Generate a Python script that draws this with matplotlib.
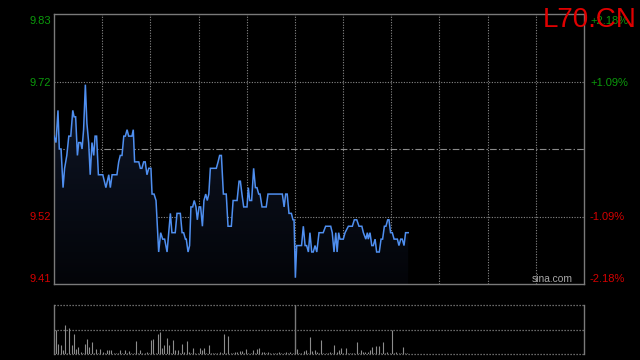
import matplotlib
matplotlib.use('Agg')
import matplotlib.pyplot as plt
import numpy as np
from matplotlib.patches import Polygon
from matplotlib.transforms import blended_transform_factory, offset_copy

# ---------------- data ----------------
title = "L70.CN"
prev_close = 9.62
price_labels = ["9.83", "9.72", "9.52", "9.41"]
pct_labels = ["+2.18%", "+1.09%", "-1.09%", "-2.18%"]
pct_levels = [2.18, 1.09, -1.09, -2.18]

times = [0, 0.9, 1.8, 2.4, 3.2, 4.1, 4.8, 5.8, 6.7, 7.6, 8.5, 9.1, 9.8, 10.6, 11.2, 12.1, 12.7, 13.4, 14.2, 14.9,
         15.7, 16.4, 17.2, 18.0, 18.6, 19.3, 20.1, 22.1, 23.5, 24.8, 25.5, 26.3, 28.5, 29.3, 30.0, 30.8, 31.6, 32.3, 33.1, 33.8,
         35.3, 35.9, 36.5, 38.4, 39.1, 39.8, 40.6, 41.3, 42.1, 42.9, 43.9, 44.4, 45.3, 46.2, 47.4, 48.3, 49.2, 50.1, 51.2, 52.7,
         53.4, 54.9, 55.7, 57.2, 58.0, 58.7, 59.5, 59.9, 60.7, 61.4, 62.0, 62.8, 63.5, 64.3, 64.9, 65.7, 66.4, 67.2, 67.9, 68.7,
         69.4, 70.1, 70.8, 73.5, 74.3, 75.0, 75.8, 76.7, 78.0, 78.8, 80.3, 81.1, 82.9, 83.8, 84.4, 85.1, 85.9, 87.4, 88.0, 88.6,
         89.5, 90.4, 91.2, 91.9, 92.7, 93.3, 94.2, 96.1, 96.9, 103.4, 104.2, 104.9, 105.6, 106.4, 107.5, 108.2, 108.7, 109.3, 109.9, 112.1,
         112.9, 113.7, 114.4, 115.2, 115.9, 116.7, 117.4, 118.2, 119.0, 120.0, 121.9, 123.0, 125.3, 126.0, 126.8, 127.6, 128.2, 128.9, 129.5, 131.0,
         131.8, 133.3, 135.1, 136.0, 137.1, 138.1, 139.4, 140.1, 141.2, 141.9, 142.3, 143.1, 143.9, 144.6, 145.4, 146.1, 147.3, 148.1, 148.8, 149.6,
         150.3, 151.1, 151.7, 152.4, 153.2, 154.0, 155.5, 156.2, 157.0, 157.7, 158.5, 159.2, 160.4]

prices = [9.64, 9.63, 9.68, 9.62, 9.62, 9.56, 9.59, 9.61, 9.64, 9.64, 9.68, 9.67, 9.67, 9.61, 9.63, 9.63, 9.62, 9.65, 9.72, 9.66,
          9.63, 9.58, 9.63, 9.61, 9.64, 9.64, 9.58, 9.58, 9.56, 9.58, 9.56, 9.58, 9.58, 9.60, 9.61, 9.61, 9.64, 9.64, 9.65, 9.64,
          9.64, 9.65, 9.60, 9.60, 9.59, 9.59, 9.60, 9.60, 9.58, 9.59, 9.59, 9.55, 9.55, 9.54, 9.46, 9.49, 9.48, 9.48, 9.46, 9.52,
          9.49, 9.49, 9.52, 9.52, 9.49, 9.49, 9.48, 9.48, 9.46, 9.47, 9.53, 9.53, 9.54, 9.53, 9.51, 9.53, 9.53, 9.50, 9.54, 9.55,
          9.54, 9.55, 9.59, 9.59, 9.60, 9.61, 9.61, 9.55, 9.55, 9.50, 9.50, 9.54, 9.54, 9.57, 9.57, 9.55, 9.53, 9.53, 9.56, 9.54,
          9.54, 9.59, 9.56, 9.56, 9.55, 9.55, 9.53, 9.53, 9.55, 9.55, 9.53, 9.55, 9.55, 9.52, 9.52, 9.51, 9.51, 9.42, 9.47, 9.47,
          9.50, 9.47, 9.47, 9.46, 9.49, 9.46, 9.46, 9.47, 9.46, 9.49, 9.49, 9.50, 9.50, 9.49, 9.46, 9.49, 9.46, 9.49, 9.48, 9.48,
          9.49, 9.50, 9.50, 9.51, 9.51, 9.50, 9.50, 9.49, 9.48, 9.49, 9.48, 9.49, 9.47, 9.47, 9.48, 9.46, 9.46, 9.48, 9.48, 9.50,
          9.50, 9.51, 9.51, 9.49, 9.49, 9.48, 9.48, 9.47, 9.48, 9.48, 9.47, 9.49, 9.49]

volumes = [320, 500, 200, 190, 80, 600, 30, 530, 190, 400, 100, 150, 40, 20, 200, 300, 150, 240, 30, 100,
           30, 100, 50, 20, 80, 80, 80, 20, 20, 30, 80, 20, 80, 30, 70, 20, 30, 270, 20, 80,
           20, 30, 40, 20, 280, 300, 30, 400, 440, 120, 190, 320, 190, 20, 280, 80, 80, 30, 210, 50,
           260, 50, 30, 120, 20, 30, 120, 80, 120, 30, 180, 20, 30, 30, 20, 40, 20, 400, 30, 370,
           20, 30, 40, 50, 60, 70, 20, 100, 30, 20, 80, 20, 100, 120, 40, 50, 30, 50, 20, 30,
           20, 30, 50, 20, 30, 40, 30, 40, 30, 20, 100, 30, 20, 60, 80, 20, 350, 60, 80, 40,
           20, 280, 30, 20, 30, 50, 20, 180, 40, 80, 120, 30, 120, 20, 30, 20, 30, 240, 20, 80,
           40, 50, 40, 80, 150, 30, 160, 160, 20, 240, 30, 40, 20, 500, 30, 50, 20, 30, 150, 30, 20]
vol_minutes = list(range(len(volumes)))

session_minutes = 240
n_vgrid = 11

# ---------------- figure ----------------
fig = plt.figure(figsize=(6.4, 3.6), dpi=100, facecolor='black')
ax = fig.add_axes([54/640, 76/360, 530/640, 270/360])
axv = fig.add_axes([54/640, 6/360, 530/640, 49/360])

levels = [prev_close * (1 + p/100) for p in pct_levels]
ymax, ymin = levels[0], levels[-1]

grid_col = '#8a8a8a'
dot = (0, (1, 1.4))

for a in (ax, axv):
    a.set_facecolor('black')
    a.set_xticks([]); a.set_yticks([])
    for s in a.spines.values():
        s.set_color('#7a7a7a'); s.set_linewidth(1.0)

ax.set_xlim(0, session_minutes)
ax.set_ylim(ymin, ymax)

for k in range(1, n_vgrid):
    ax.axvline(session_minutes * k / n_vgrid, color=grid_col, lw=0.8, ls=dot, zorder=0.5)
for lv in levels[1:-1]:
    ax.axhline(lv, color=grid_col, lw=0.8, ls=dot, zorder=0.5)
ax.axhline(prev_close, color=grid_col, lw=0.8, ls=(0, (6, 2, 1.2, 2)), zorder=0.5)

# gradient fill under the line
verts = [(times[0], ymin)] + list(zip(times, prices)) + [(times[-1], ymin)]
poly = Polygon(verts, closed=True, facecolor='none', edgecolor='none')
ax.add_patch(poly)
g = np.linspace(0, 1, 256).reshape(-1, 1)
top = np.array([15, 23, 40]) / 255
bot = np.array([3, 4, 8]) / 255
img = np.zeros((256, 1, 3))
for i in range(3):
    img[:, 0, i] = top[i] * (1 - g[:, 0]) + bot[i] * g[:, 0]
im = ax.imshow(img, extent=[0, session_minutes, ymin, max(prices)], aspect='auto',
               origin='upper', zorder=1, interpolation='bilinear')
im.set_clip_path(poly)
ax.set_xlim(0, session_minutes)
ax.set_ylim(ymin, ymax)

ax.plot(times, prices, color='#4f8ff0', lw=1.1, zorder=3, solid_joinstyle='miter')

# labels
font = 'Liberation Sans'
blend = blended_transform_factory(ax.transAxes, ax.transData)
offs = [-10.3, -4, -4, 1.7]
for lv, pl, pc, off, p in zip(levels, price_labels, pct_labels, offs, pct_levels):
    col = '#0b9a0b' if p > 0 else '#d40000'
    tr = offset_copy(blend, fig=fig, x=0, y=off, units='dots')
    ax.text(-3/530, lv, pl, transform=tr, ha='right', va='baseline', color=col,
            fontsize=8, family=font)
    ax.text(1 + 6/530, lv, pc, transform=tr, ha='left', va='baseline', color=col,
            fontsize=8, family=font)

ax.text(519/530, 5/270, 'sina.com', transform=ax.transAxes, ha='right', va='center',
        color='#a8a8a8', fontsize=7.4, family=font)

fig.text(637/640, (360-27)/360, title, ha='right', va='baseline', color='#e00000',
         fontsize=20, family=font)

# volume panel
axv.set_xlim(0, session_minutes)
axv.set_ylim(0, 1000)
axv.spines['top'].set_visible(False)
axv.spines['bottom'].set_visible(False)
for yv in (0, 500, 1000):
    axv.axhline(yv, color=grid_col, lw=0.9, ls=dot, clip_on=False, zorder=0.5)
axv.axvline(session_minutes * 5 / n_vgrid, color='#7a7a7a', lw=1.0, zorder=0.6)
axv.vlines(vol_minutes, 0, volumes, color='#8c8c8c', lw=0.8, zorder=2)

fig.savefig('out.png', dpi=100, facecolor='black')
